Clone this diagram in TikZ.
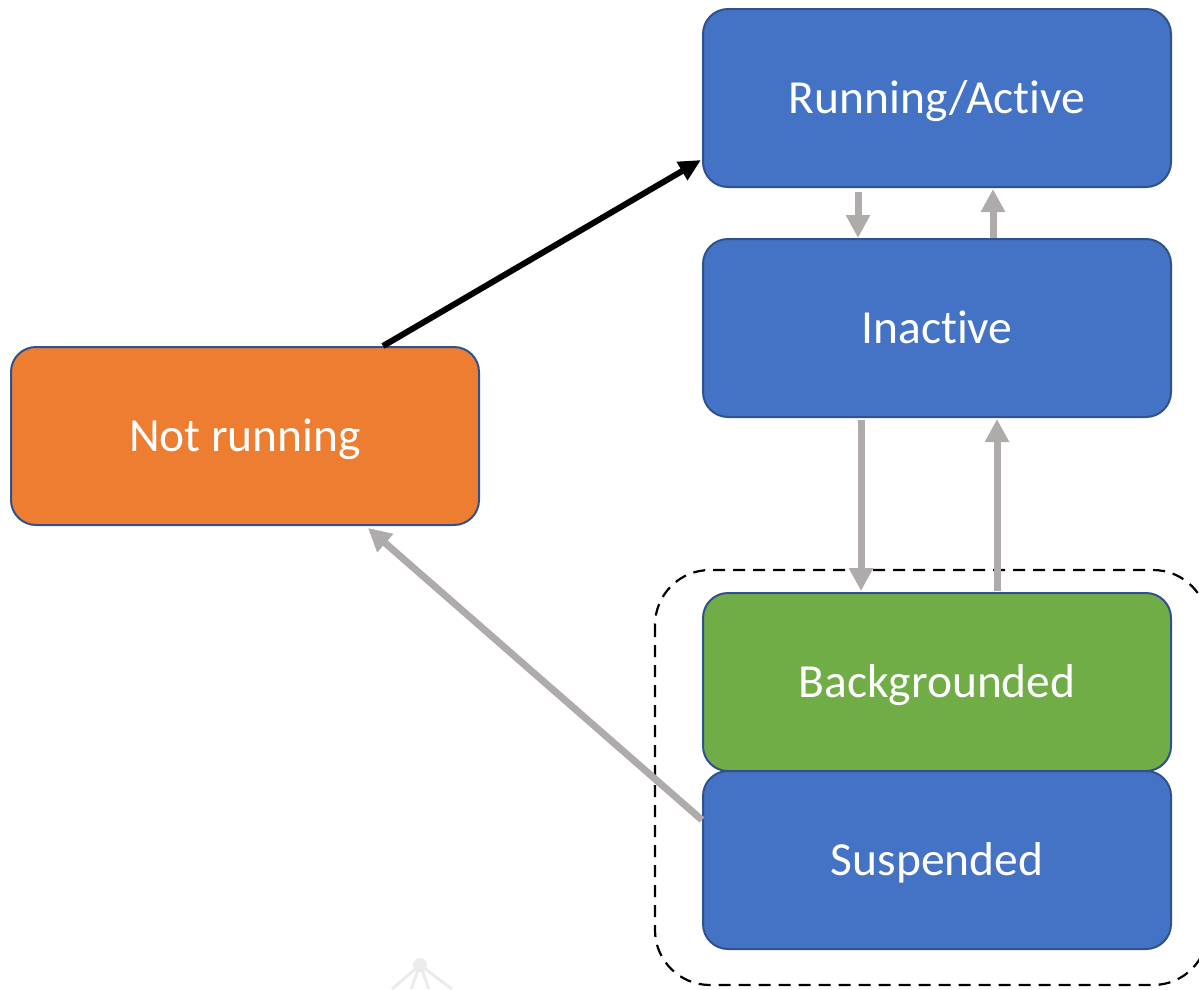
\documentclass[tikz,border=0pt]{standalone}
\usepackage{fontspec}
\setmainfont{Carlito}[Ligatures=NoCommon]
\usetikzlibrary{arrows.meta,calc}
\definecolor{boxblue}{HTML}{4472C4}
\definecolor{boxorange}{HTML}{ED7D31}
\definecolor{boxgreen}{HTML}{70AD47}
\definecolor{boxedge}{HTML}{2F528F}
\definecolor{arrgray}{HTML}{AFABAB}
\begin{document}
\begin{tikzpicture}[x=1pt,y=-1pt,
  state/.style={draw=boxedge, line width=2pt, rounded corners=25pt,
    minimum width=468pt, minimum height=178pt, inner sep=0pt,
    text height=31pt, text depth=0pt,
    text=white, font=\fontsize{47.5}{57}\selectfont},
  grayarrow/.style={draw=arrgray, line width=7pt,
    -{Triangle[width=23pt,length=23pt]}},
  blackarrow/.style={draw=black, line width=6pt,
    -{Triangle[width=20pt,length=22pt]}}]
\useasboundingbox (0,0) rectangle (1199,989);
\begin{scope}
\clip (0,0) rectangle (1199,989);
% faint artifact
\fill[black!8] (420,965) circle (7);
\draw[black!8, line width=3pt] (420,965) -- (392,989) (420,965) -- (411,989) (420,965) -- (429,989) (420,965) -- (452,989);
% dashed grouping box
\draw[black, line width=2.2pt, dash pattern=on 12pt off 8pt, rounded corners=55pt]
  (655,570) rectangle (1208,985);
\end{scope}
\node[state, fill=boxblue, anchor=north west] (run) at (702,8) {Running/Active};
\node[state, fill=boxblue, anchor=north west] (inact) at (702,238) {Inactive};
\node[state, fill=boxorange, anchor=north west] (notrun) at (10,346) {Not running};
\node[state, fill=boxgreen, anchor=north west] (back) at (702,592) {Backgrounded};
\node[state, fill=boxblue, anchor=north west] (susp) at (702,770) {Suspended};
% arrows
\draw[blackarrow] ($(notrun.north west)+(373,0)$) -- ($(run.south west)+(-1,-28)$);
\draw[grayarrow] ($(run.south west)+(156,4)$) -- ($(inact.north west)+(156,0)$);
\draw[grayarrow] ($(inact.north west)+(291,0)$) -- ($(run.south west)+(291,1)$);
\draw[grayarrow] ($(inact.south west)+(159,2)$) -- ($(back.north west)+(159,-1)$);
\draw[grayarrow] ($(back.north west)+(295,-1)$) -- ($(inact.south west)+(295,1)$);
\draw[grayarrow] ($(susp.north west)+(0,50)$) -- ($(notrun.south west)+(358,2)$);
\end{tikzpicture}
\end{document}
